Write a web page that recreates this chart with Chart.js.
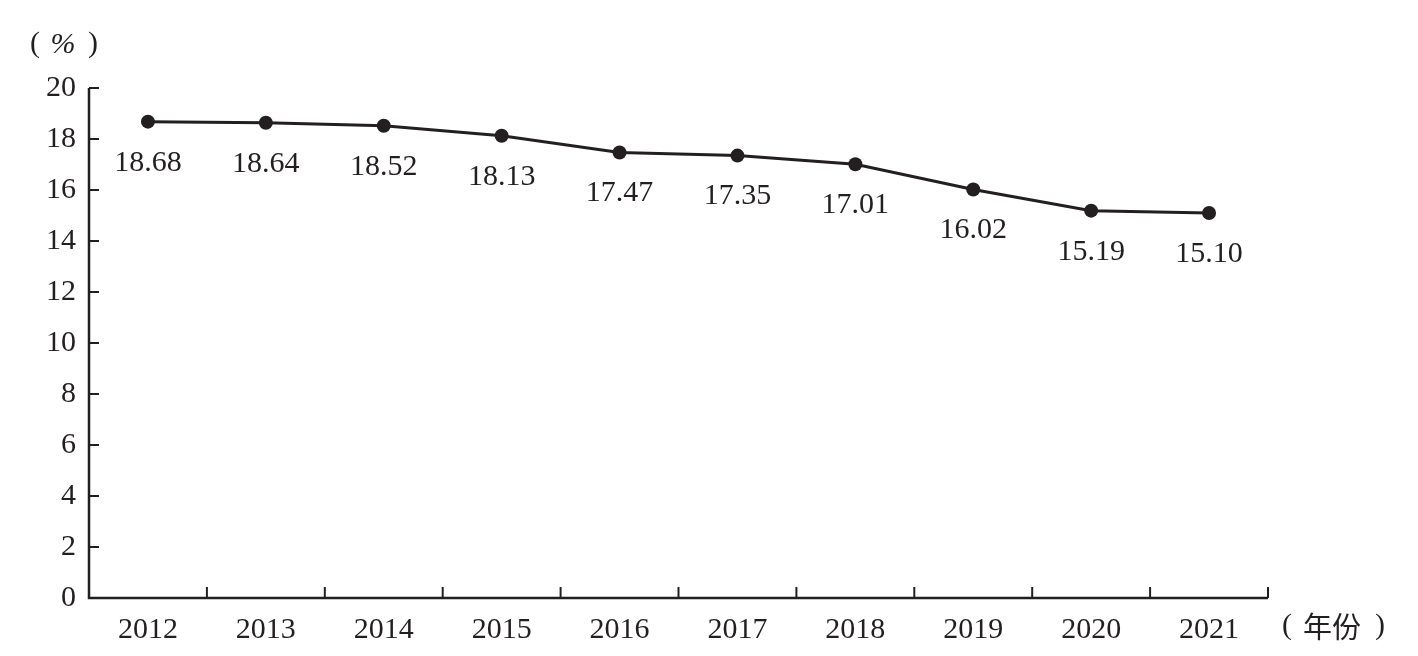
<!DOCTYPE html>
<html><head><meta charset="utf-8">
<script src="https://cdn.jsdelivr.net/npm/chart.js@4/dist/chart.umd.min.js"></script>
<style>html,body{margin:0;padding:0;background:#fff}#wrap{width:1418px;height:656px}</style>
</head><body><div id="wrap"><canvas id="c" width="1418" height="656"></canvas></div>
<script>
const years = ['2012','2013','2014','2015','2016','2017','2018','2019','2020','2021'];
const values = [18.68,18.64,18.52,18.13,17.47,17.35,17.01,16.02,15.19,15.10];
const valueLabels = ['18.68','18.64','18.52','18.13','17.47','17.35','17.01','16.02','15.19','15.10'];
const yTicks = [0,2,4,6,8,10,12,14,16,18,20];
const yUnit = '%';
const xUnit = '年份';

const INK = '#231f20';
const SERIF = '"Liberation Serif","DejaVu Serif",serif';

const decor = {
  id:'decor',
  afterDraw(chart){
    const ctx = chart.ctx, ca = chart.chartArea;
    const xs = chart.scales.x, ys = chart.scales.y;
    ctx.save();
    ctx.strokeStyle = INK; ctx.lineWidth = 2.5;
    ctx.beginPath();
    ctx.moveTo(ca.left, ys.getPixelForValue(20));
    ctx.lineTo(ca.left, ca.bottom);
    ctx.lineTo(ca.right, ca.bottom);
    ctx.stroke();
    ctx.lineWidth = 2;
    yTicks.forEach(v=>{
      const y = ys.getPixelForValue(v);
      ctx.beginPath(); ctx.moveTo(ca.left, y); ctx.lineTo(ca.left+10, y); ctx.stroke();
    });
    const step = xs.getPixelForValue(1)-xs.getPixelForValue(0);
    for(let i=0;i<years.length;i++){
      const x = xs.getPixelForValue(i)+step/2;
      ctx.beginPath(); ctx.moveTo(x, ca.bottom); ctx.lineTo(x, ca.bottom-11); ctx.stroke();
    }
    ctx.fillStyle = INK;
    ctx.font = '30px '+SERIF;
    ctx.textAlign = 'center'; ctx.textBaseline = 'middle';
    const meta = chart.getDatasetMeta(0);
    meta.data.forEach((p,i)=>{ ctx.fillText(valueLabels[i], p.x, p.y+41); });
    // units
    ctx.fillText('(', 35, 44);
    ctx.font = 'italic 30px '+SERIF;
    ctx.fillText(yUnit, 63, 45);
    ctx.font = '30px '+SERIF;
    ctx.fillText(')', 93, 44);
    ctx.fillText('(', 1287, 626);
    ctx.fillText(')', 1380, 626);
    ctx.font = '29px "Noto Sans CJK SC",sans-serif';
    ctx.fillText(xUnit, 1332, 627);
    ctx.restore();
  }
};

new Chart(document.getElementById('c'), {
  type:'line',
  data:{labels:years, datasets:[{data:values, borderColor:INK, borderWidth:3, pointRadius:7, pointHoverRadius:7, pointBackgroundColor:INK, pointBorderColor:INK, pointBorderWidth:0, tension:0}]},
  options:{
    responsive:false, animation:false,
    layout:{padding:{left:0,right:150,top:88,bottom:0}},
    plugins:{legend:{display:false}, tooltip:{enabled:false}},
    scales:{
      x:{offset:true, grid:{display:false, drawTicks:false}, border:{display:false},
         ticks:{color:INK, font:{family:SERIF,size:30}, padding:14},
         afterFit(s){s.height=58;}},
      y:{min:0,max:20, afterBuildTicks(s){s.ticks=yTicks.map(v=>({value:v}));},
         grid:{display:false, drawTicks:false}, border:{display:false},
         ticks:{color:INK, font:{family:SERIF,size:30}, padding:13},
         afterFit(s){s.width=89;}}
    }
  },
  plugins:[decor]
});
</script></body></html>
